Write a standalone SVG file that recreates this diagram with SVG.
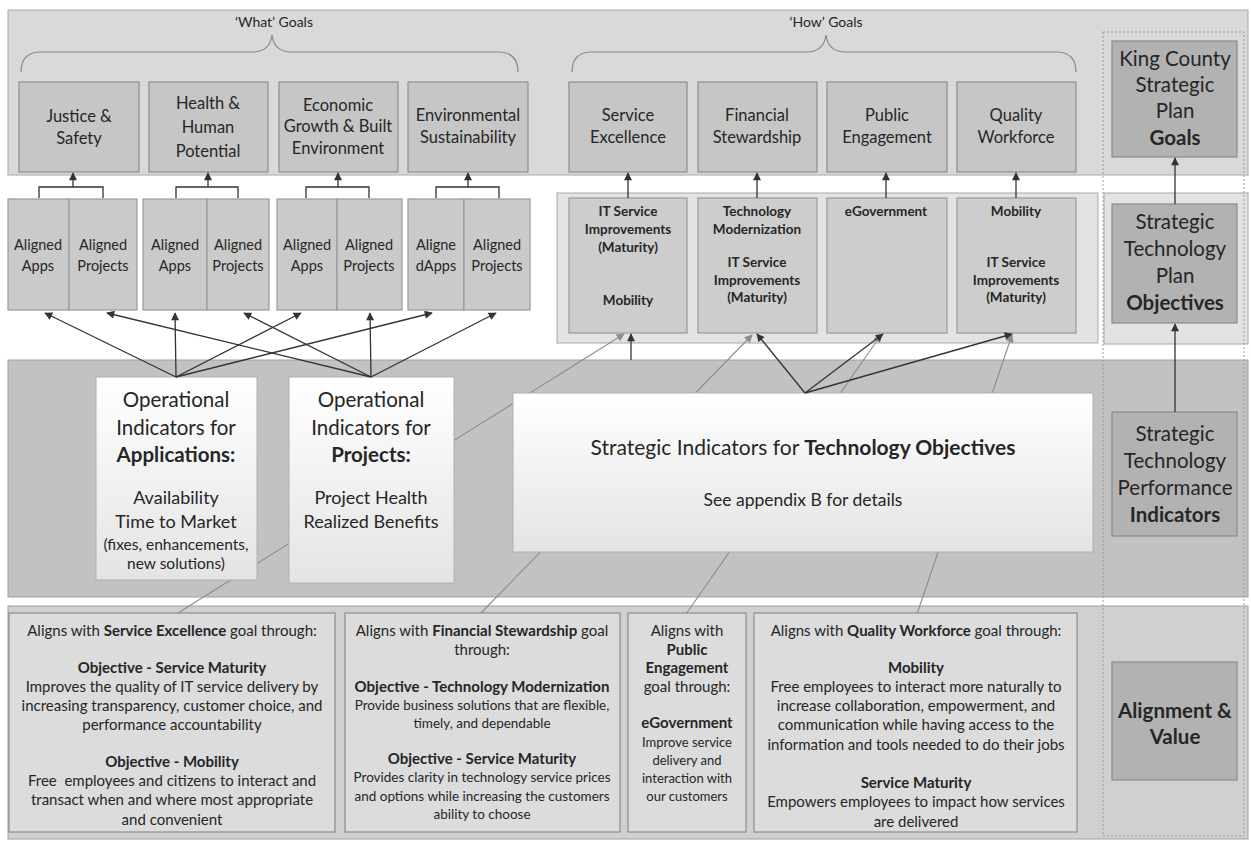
<svg xmlns="http://www.w3.org/2000/svg" width="1251" height="842" viewBox="0 0 1251 842">
<defs>
<style>
text{font-family:Lato,"Liberation Sans",sans-serif;fill:#262626;text-anchor:middle}
.band{fill:#d9d9d9;stroke:#a8a8a8;stroke-width:1}
.band2{fill:#e3e3e3;stroke:#a8a8a8;stroke-width:1}
.band3{fill:#c2c2c2;stroke:#a0a0a0;stroke-width:1}
.band4{fill:#d0d0d0;stroke:#a0a0a0;stroke-width:1}
.goal{fill:#c6c6c6;stroke:#8e8e8e;stroke-width:1.2}
.al{fill:#cacaca;stroke:#999;stroke-width:1.2}
.obj{fill:#cdcdcd;stroke:#999;stroke-width:1.2}
.op{fill:url(#gw);stroke:#b0b0b0;stroke-width:1}
.bot{fill:#dcdcdc;stroke:#8c8c8c;stroke-width:1.2}
.rc{fill:#b2b2b2;stroke:#8a8a8a;stroke-width:1.2}
.g{font-size:16.5px}
.a{font-size:14.5px}
.o{font-size:13.5px;font-weight:bold}
.big{font-size:20.5px}
.mid{font-size:18px}
.sm{font-size:15.5px}
.r{font-size:20.5px}
.t{font-size:15px}
.t12{font-size:13.5px}
.t3{font-size:13px}
.lbl{font-size:14px}
.b{font-weight:bold}
.brace{fill:none;stroke:#8a8a8a;stroke-width:1.2}
.dk{fill:none;stroke:#333;stroke-width:1.3;marker-end:url(#ah)}
.ln{fill:none;stroke:#333;stroke-width:1.3}
.gr{fill:none;stroke:#8c8c8c;stroke-width:1.1;marker-end:url(#ahg)}
</style>
<linearGradient id="gw" x1="0" y1="0" x2="0" y2="1">
<stop offset="0" stop-color="#ffffff"/><stop offset="1" stop-color="#e4e4e4"/>
</linearGradient>
<marker id="ah" viewBox="0 0 10 10" refX="9" refY="5" markerWidth="9" markerHeight="8" markerUnits="userSpaceOnUse" orient="auto">
<path d="M0,0 L10,5 L0,10 z" fill="#333"/>
</marker>
<marker id="ahg" viewBox="0 0 10 10" refX="9" refY="5" markerWidth="9" markerHeight="8" markerUnits="userSpaceOnUse" orient="auto">
<path d="M0,0 L10,5 L0,10 z" fill="#8c8c8c"/>
</marker>
</defs>
<rect width="1251" height="842" fill="#ffffff"/>

<!-- bands -->
<g id="bands">
<rect class="band" x="8" y="10" width="1240" height="165"/>
<rect class="band2" x="557" y="193" width="541" height="150"/>
<rect class="band2" x="1104" y="193" width="144" height="151"/>
<rect class="band3" x="8" y="360" width="1240" height="237"/>
<rect class="band4" x="8" y="606" width="1240" height="233"/>
<rect x="1103" y="32" width="141" height="804" fill="none" stroke="#9a9a9a" stroke-width="1" stroke-dasharray="2,2"/>
<text class="lbl" x="274" y="27">‘What’ Goals</text>
<text class="lbl" x="826" y="27">‘How’ Goals</text>
<path class="brace" d="M21,72 Q21,52 41,52 L252,52 Q270,52 272,35 Q274,52 292,52 L498,52 Q518,52 518,72"/>
<path class="brace" d="M572,72 Q572,52 592,52 L806,52 Q824,52 826,35 Q828,52 846,52 L1056,52 Q1076,52 1076,72"/>
</g>

<!-- back connectors (alignment lines) -->
<g id="connectors-back">
<path class="gr" d="M178,613 L624,334"/>
<path class="gr" d="M480,614 L752,335"/>
<path class="gr" d="M686,614 L881,335"/>
<path class="gr" d="M917,614 L1012,335"/>
</g>

<!-- goal nodes -->
<g id="goal-justice"><rect class="goal" x="19" y="82" width="120" height="90"/><text class="g" x="79" y="122">Justice &amp;</text><text class="g" x="79" y="144">Safety</text></g>
<g id="goal-health"><rect class="goal" x="149" y="82" width="119" height="90"/><text class="g" x="208" y="109">Health &amp;</text><text class="g" x="208" y="133">Human</text><text class="g" x="208" y="157">Potential</text></g>
<g id="goal-economic"><rect class="goal" x="279" y="82" width="119" height="90"/><text class="g" x="338" y="111">Economic</text><text class="g" x="338" y="132">Growth &amp; Built</text><text class="g" x="338" y="154">Environment</text></g>
<g id="goal-environment"><rect class="goal" x="408" y="82" width="120" height="90"/><text class="g" x="468" y="121">Environmental</text><text class="g" x="468" y="143">Sustainability</text></g>
<g id="goal-service"><rect class="goal" x="569" y="82" width="118" height="90"/><text class="g" x="628" y="121">Service</text><text class="g" x="628" y="143">Excellence</text></g>
<g id="goal-financial"><rect class="goal" x="698" y="82" width="119" height="90"/><text class="g" x="757" y="121">Financial</text><text class="g" x="757" y="143">Stewardship</text></g>
<g id="goal-public"><rect class="goal" x="827" y="82" width="120" height="90"/><text class="g" x="887" y="121">Public</text><text class="g" x="887" y="143">Engagement</text></g>
<g id="goal-quality"><rect class="goal" x="957" y="82" width="119" height="90"/><text class="g" x="1016" y="121">Quality</text><text class="g" x="1016" y="143">Workforce</text></g>

<!-- aligned nodes -->
<g id="aligned-1"><rect class="al" x="8" y="199" width="61" height="111"/><rect class="al" x="69" y="199" width="68" height="111"/>
<text class="a" x="38" y="250">Aligned</text><text class="a" x="38" y="271">Apps</text><text class="a" x="103" y="250">Aligned</text><text class="a" x="103" y="271">Projects</text></g>
<g id="aligned-2"><rect class="al" x="143" y="199" width="64" height="111"/><rect class="al" x="207" y="199" width="62" height="111"/>
<text class="a" x="175" y="250">Aligned</text><text class="a" x="175" y="271">Apps</text><text class="a" x="238" y="250">Aligned</text><text class="a" x="238" y="271">Projects</text></g>
<g id="aligned-3"><rect class="al" x="277" y="199" width="60" height="111"/><rect class="al" x="337" y="199" width="65" height="111"/>
<text class="a" x="307" y="250">Aligned</text><text class="a" x="307" y="271">Apps</text><text class="a" x="369" y="250">Aligned</text><text class="a" x="369" y="271">Projects</text></g>
<g id="aligned-4"><rect class="al" x="408" y="199" width="56" height="111"/><rect class="al" x="464" y="199" width="66" height="111"/>
<text class="a" x="436" y="250">Aligne</text><text class="a" x="436" y="271">dApps</text><text class="a" x="497" y="250">Aligned</text><text class="a" x="497" y="271">Projects</text></g>

<!-- objective nodes -->
<g id="obj-1"><rect class="obj" x="569" y="198" width="118" height="135"/>
<text class="o" x="628" y="216">IT Service</text><text class="o" x="628" y="234">Improvements</text><text class="o" x="628" y="252">(Maturity)</text><text class="o" x="628" y="305">Mobility</text></g>
<g id="obj-2"><rect class="obj" x="698" y="198" width="119" height="135"/>
<text class="o" x="757" y="216">Technology</text><text class="o" x="757" y="234">Modernization</text><text class="o" x="757" y="267">IT Service</text><text class="o" x="757" y="285">Improvements</text><text class="o" x="757" y="302">(Maturity)</text></g>
<g id="obj-3"><rect class="obj" x="827" y="198" width="120" height="135"/>
<text class="o" x="886" y="216">eGovernment</text></g>
<g id="obj-4"><rect class="obj" x="957" y="198" width="119" height="135"/>
<text class="o" x="1016" y="216">Mobility</text><text class="o" x="1016" y="267">IT Service</text><text class="o" x="1016" y="285">Improvements</text><text class="o" x="1016" y="302">(Maturity)</text></g>

<!-- operational / strategic indicator nodes -->
<g id="op-apps"><rect class="op" x="96" y="377" width="161" height="203"/>
<text class="big" x="176" y="407">Operational</text><text class="big" x="176" y="435">Indicators for</text><text class="big b" x="176" y="462">Applications:</text>
<text class="mid" x="176" y="504">Availability</text><text class="mid" x="176" y="528">Time to Market</text>
<text class="sm" x="176" y="550">(fixes, enhancements,</text><text class="sm" x="176" y="569">new solutions)</text></g>
<g id="op-projects"><rect class="op" x="289" y="377" width="165" height="206"/>
<text class="big" x="371" y="407">Operational</text><text class="big" x="371" y="435">Indicators for</text><text class="big b" x="371" y="462">Projects:</text>
<text class="mid" x="371" y="504">Project Health</text><text class="mid" x="371" y="528">Realized Benefits</text></g>
<g id="strategic"><rect class="op" x="513" y="393" width="580" height="159"/>
<text x="803" y="455" style="font-size:21px">Strategic Indicators for <tspan class="b">Technology Objectives</tspan></text>
<text x="803" y="506" style="font-size:17.5px">See appendix B for details</text></g>

<!-- bottom value nodes -->
<g id="value-service"><rect class="bot" x="9" y="613" width="326" height="219"/>
<text class="t" x="172" y="636">Aligns with <tspan class="b">Service Excellence</tspan> goal through:</text>
<text class="t b" x="172" y="673">Objective - Service Maturity</text>
<text class="t" x="172" y="692">Improves the quality of IT service delivery by</text>
<text class="t" x="172" y="711">increasing transparency, customer choice, and</text>
<text class="t" x="172" y="730">performance accountability</text>
<text class="t b" x="172" y="767">Objective - Mobility</text>
<text class="t" x="172" y="786" xml:space="preserve">Free  employees and citizens to interact and</text>
<text class="t" x="172" y="805">transact when and where most appropriate</text>
<text class="t" x="172" y="825">and convenient</text></g>
<g id="value-financial"><rect class="bot" x="345" y="613" width="275" height="219"/>
<text class="t" x="482" y="636">Aligns with <tspan class="b">Financial Stewardship</tspan> goal</text>
<text class="t" x="482" y="655">through:</text>
<text class="t b" x="482" y="692">Objective - Technology Modernization</text>
<text class="t12" x="482" y="710">Provide business solutions that are flexible,</text>
<text class="t12" x="482" y="728">timely, and dependable</text>
<text class="t b" x="482" y="764">Objective - Service Maturity</text>
<text class="t12" x="482" y="782">Provides clarity in technology service prices</text>
<text class="t12" x="482" y="801">and options while increasing the customers</text>
<text class="t12" x="482" y="819">ability to choose</text></g>
<g id="value-public"><rect class="bot" x="628" y="613" width="118" height="219"/>
<text class="t" x="687" y="636">Aligns with</text>
<text class="t b" x="687" y="655">Public</text>
<text class="t b" x="687" y="673">Engagement</text>
<text class="t" x="687" y="692">goal through:</text>
<text class="t b" x="687" y="728">eGovernment</text>
<text class="t3" x="687" y="747">Improve service</text>
<text class="t3" x="687" y="765">delivery and</text>
<text class="t3" x="687" y="783">interaction with</text>
<text class="t3" x="687" y="801">our customers</text></g>
<g id="value-quality"><rect class="bot" x="754" y="613" width="323" height="219"/>
<text class="t" x="916" y="636">Aligns with <tspan class="b">Quality Workforce</tspan> goal through:</text>
<text class="t b" x="916" y="673">Mobility</text>
<text class="t" x="916" y="692">Free employees to interact more naturally to</text>
<text class="t" x="916" y="711">increase collaboration, empowerment, and</text>
<text class="t" x="916" y="730">communication while having access to the</text>
<text class="t" x="916" y="750">information and tools needed to do their jobs</text>
<text class="t b" x="916" y="788">Service Maturity</text>
<text class="t" x="916" y="807">Empowers employees to impact how services</text>
<text class="t" x="916" y="827">are delivered</text></g>

<!-- right column nodes -->
<g id="rc-goals"><rect class="rc" x="1112" y="41" width="125" height="116"/>
<text class="r" x="1175" y="66">King County</text><text class="r" x="1175" y="92">Strategic</text><text class="r" x="1175" y="118">Plan</text><text class="r b" x="1175" y="145">Goals</text></g>
<g id="rc-objectives"><rect class="rc" x="1112" y="204" width="125" height="119"/>
<text class="r" x="1175" y="229">Strategic</text><text class="r" x="1175" y="256">Technology</text><text class="r" x="1175" y="283">Plan</text><text class="r b" x="1175" y="310">Objectives</text></g>
<g id="rc-indicators"><rect class="rc" x="1112" y="412" width="125" height="124"/>
<text class="r" x="1175" y="441">Strategic</text><text class="r" x="1175" y="468">Technology</text><text class="r" x="1175" y="495">Performance</text><text class="r b" x="1175" y="522">Indicators</text></g>
<g id="rc-value"><rect class="rc" x="1112" y="662" width="125" height="118"/>
<text class="r b" x="1175" y="718">Alignment &amp;</text><text class="r b" x="1175" y="744">Value</text></g>

<!-- connectors -->
<g id="connectors">
<path class="ln" d="M39,198 V187 H103 V198"/><path class="dk" d="M73,187 V173"/>
<path class="ln" d="M176,198 V187 H238 V198"/><path class="dk" d="M208,187 V173"/>
<path class="ln" d="M306,198 V187 H369 V198"/><path class="dk" d="M338,187 V173"/>
<path class="ln" d="M436,198 V187 H499 V198"/><path class="dk" d="M468,187 V173"/>
<path class="dk" d="M628,198 V173"/>
<path class="dk" d="M757,198 V173"/>
<path class="dk" d="M886,198 V173"/>
<path class="dk" d="M1016,198 V173"/>
<path class="dk" d="M176,377 L45,313"/>
<path class="dk" d="M176,377 L175,313"/>
<path class="dk" d="M176,377 L301,313"/>
<path class="dk" d="M176,377 L432,313"/>
<path class="dk" d="M371,377 L107,313"/>
<path class="dk" d="M371,377 L244,313"/>
<path class="dk" d="M371,377 L370,313"/>
<path class="dk" d="M371,377 L496,313"/>
<path class="dk" d="M631,360 L631,334"/>
<path class="dk" d="M805,393 L757,334"/>
<path class="dk" d="M805,393 L883,334"/>
<path class="dk" d="M805,393 L1012,334"/>
<path class="dk" d="M1175,204 V158"/>
<path class="dk" d="M1175,412 V324"/>
</g>
</svg>
